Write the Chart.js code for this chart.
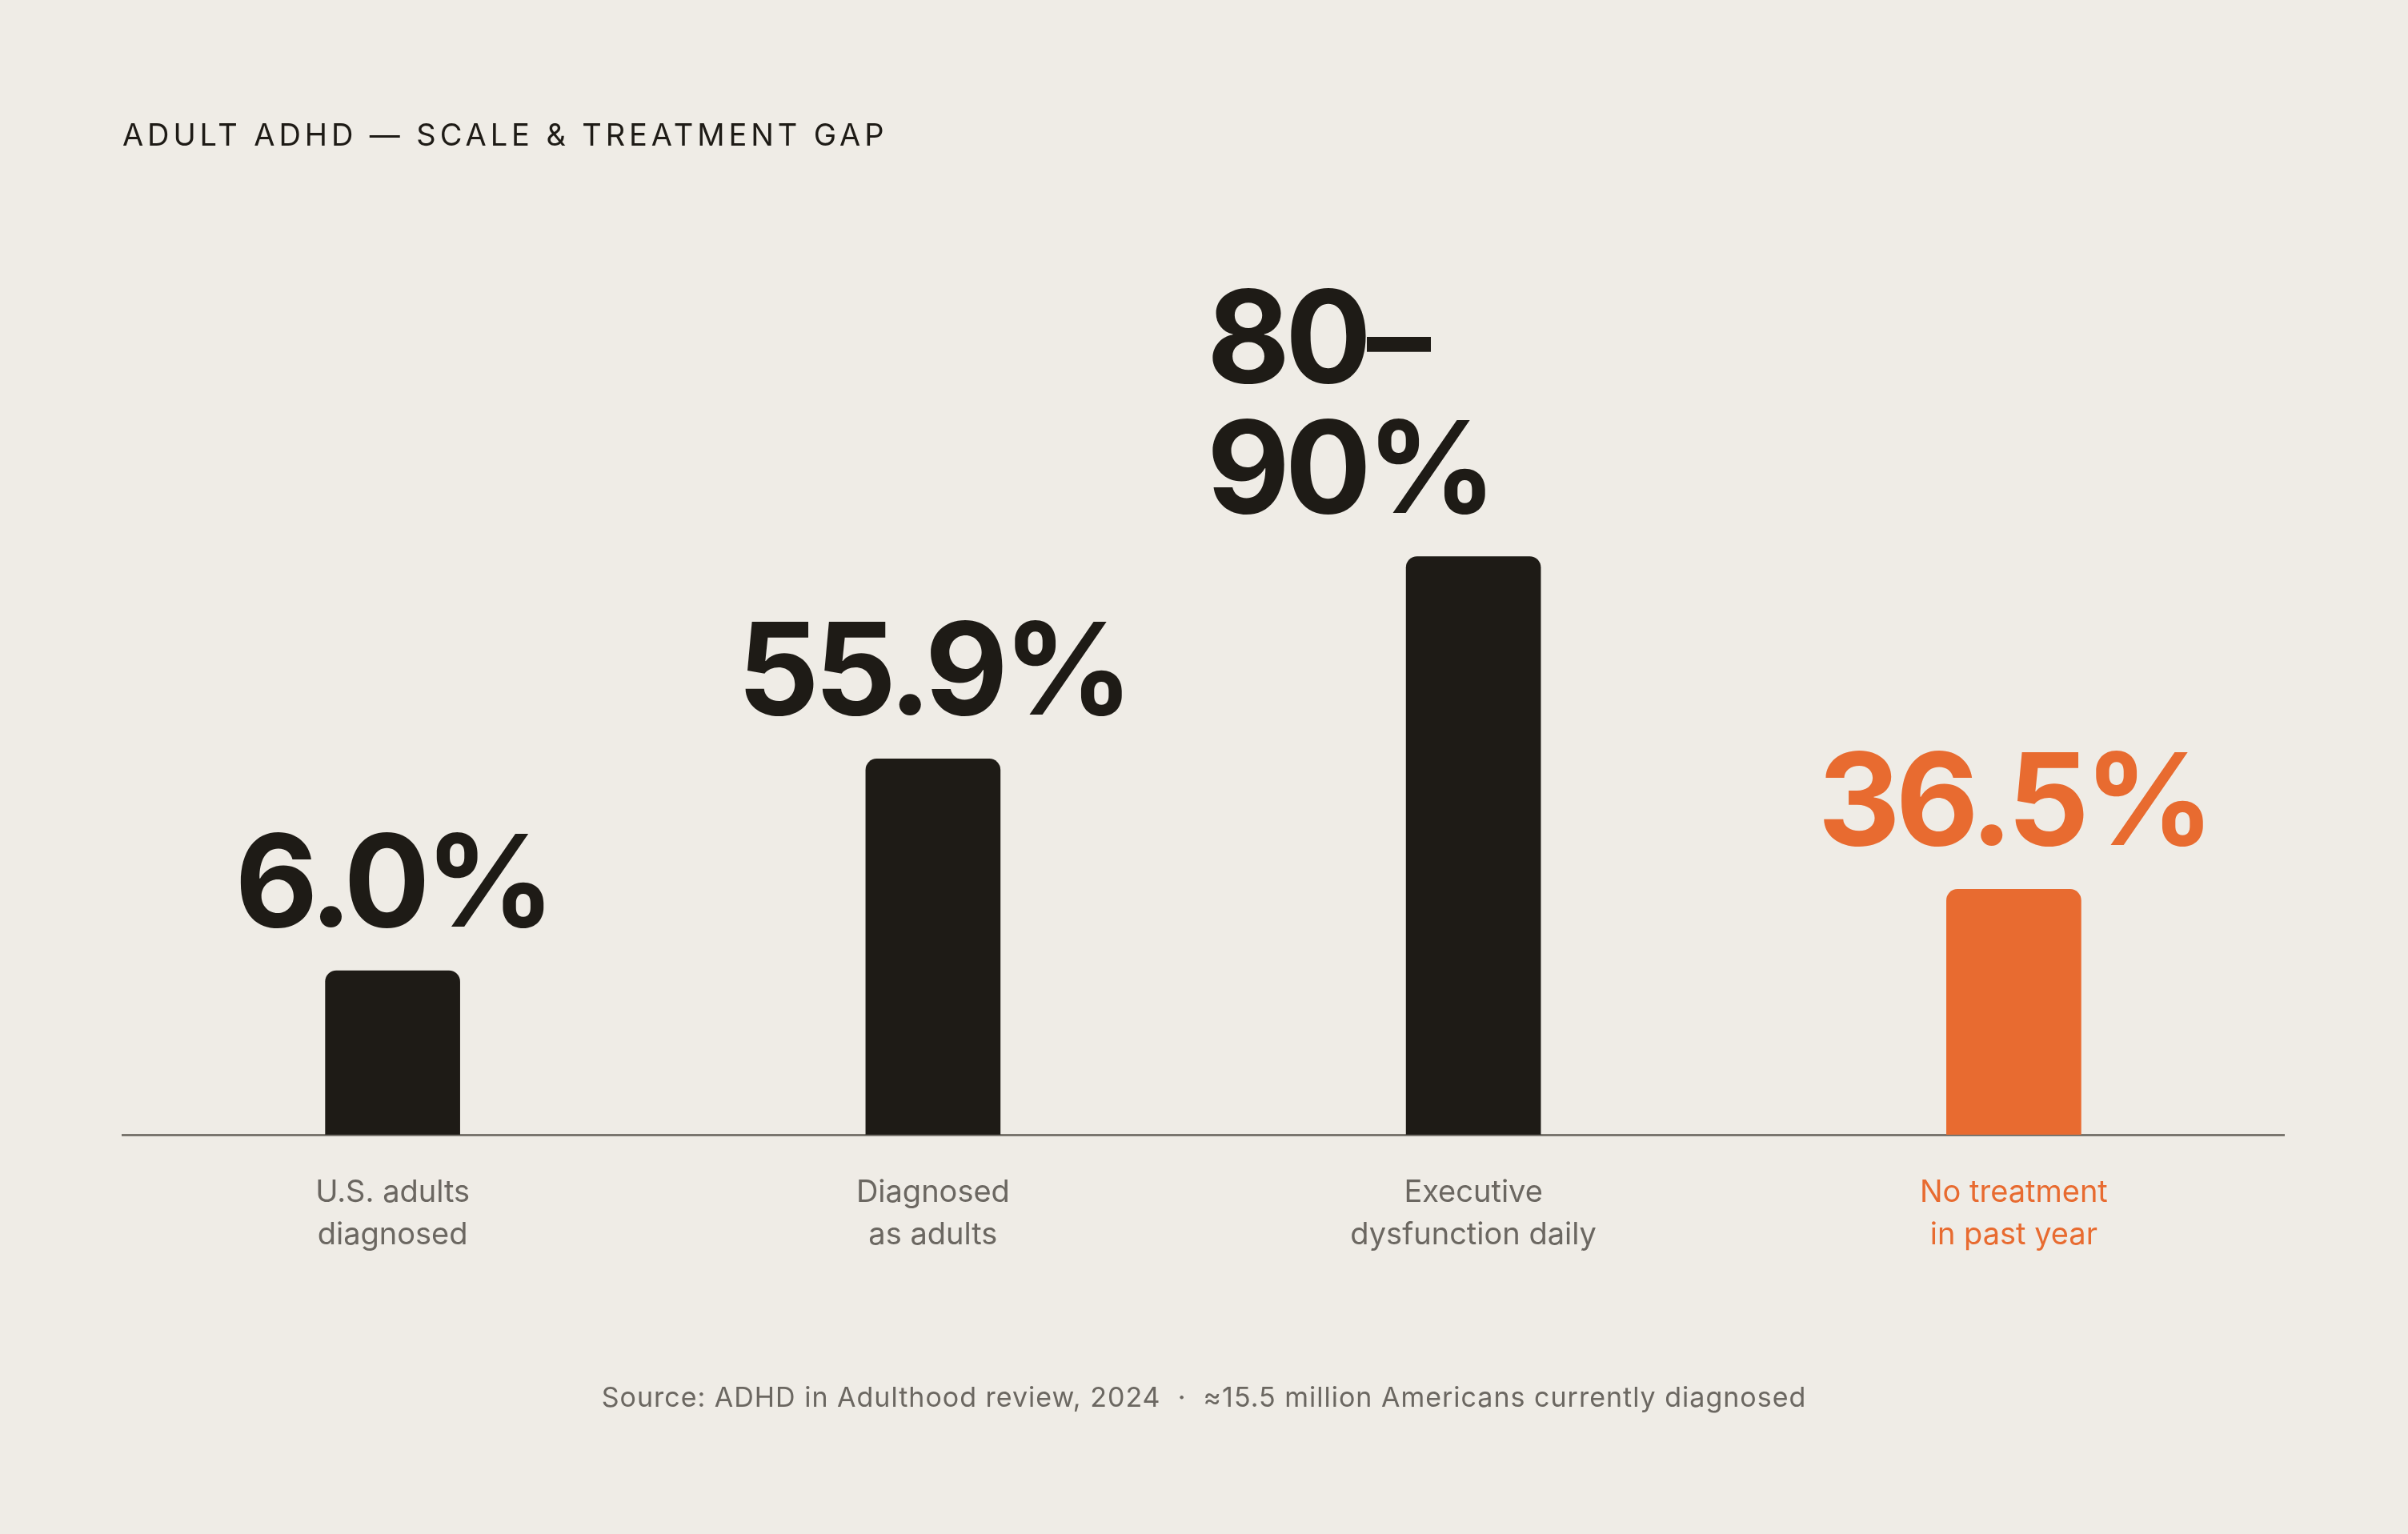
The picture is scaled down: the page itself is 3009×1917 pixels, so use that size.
<!DOCTYPE html>
<html>
<head>
<meta charset="utf-8">
<title>Adult ADHD — scale & treatment gap</title>
<script src="https://cdn.jsdelivr.net/npm/chart.js@4.4.1/dist/chart.umd.min.js"></script>
<style>
  html, body { margin: 0; padding: 0; background: #efece6; }
  #wrap { width: 3009px; height: 1917px; }
</style>
</head>
<body>
<div id="wrap"><canvas id="adhdChart" width="3009" height="1917"></canvas></div>
<script>
// data
const categories = [
  ['U.S. adults', 'diagnosed'],
  ['Diagnosed', 'as adults'],
  ['Executive', 'dysfunction daily'],
  ['No treatment', 'in past year']
];
const values = [6.0, 55.9, 86, 36.5];
const valueLabels = [['6.0%'], ['55.9%'], ['80–', '90%'], ['36.5%']];
const highlighted = [false, false, false, true];

const titleText = 'ADULT ADHD — SCALE & TREATMENT GAP';
const sourceText = 'Source: ADHD in Adulthood review, 2024  ·  ≈15.5 million Americans currently diagnosed';

const INK = '#1e1b16';
const ORANGE = '#e86b30';
const GREY = '#6b6761';
const FONT = 'Inter, "DejaVu Sans", sans-serif';

/**
 * value labels above bars, title and source line
 */
const decorPlugin = {
  id: 'decor',
  afterDatasetsDraw(chart) {
    const ctx = chart.ctx;
    const meta = chart.getDatasetMeta(0);
    ctx.save();
    ctx.font = '700 160px ' + FONT;
    ctx.textBaseline = 'alphabetic';
    meta.data.forEach(function(bar, i) {
      const lines = valueLabels[i];
      const baseY = bar.y - 55;
      ctx.fillStyle = highlighted[i] ? ORANGE : INK;
      if (lines.length === 1) {
        ctx.letterSpacing = '-6px';
        ctx.textAlign = 'center';
        ctx.fillText(lines[0], bar.x, baseY);
      } else {
        // wrapped label keeps the left edge of the unwrapped text
        ctx.letterSpacing = '0px';
        const full = ctx.measureText(lines.join('')).width;
        ctx.letterSpacing = '-6px';
        ctx.textAlign = 'left';
        lines.forEach(function(line, k) {
          ctx.fillText(line, bar.x - full / 2, baseY - (lines.length - 1 - k) * 163);
        });
      }
    });
    ctx.restore();
  },
  afterDraw(chart) {
    const ctx = chart.ctx;
    ctx.save();
    ctx.fillStyle = INK;
    ctx.font = '400 38px ' + FONT;
    ctx.letterSpacing = '4.9px';
    ctx.textAlign = 'left';
    ctx.textBaseline = 'alphabetic';
    ctx.fillText(titleText, chart.chartArea.left, 182);

    ctx.fillStyle = GREY;
    ctx.font = '400 34px ' + FONT;
    ctx.letterSpacing = '1px';
    ctx.textAlign = 'center';
    ctx.fillText(sourceText, chart.width / 2, 1758);
    ctx.restore();
  }
};

new Chart(document.getElementById('adhdChart'), {
  type: 'bar',
  data: {
    labels: categories,
    datasets: [{
      data: values,
      backgroundColor: values.map((v, i) => highlighted[i] ? ORANGE : INK),
      borderRadius: 14,
      borderSkipped: 'bottom',
      barThickness: 168,
      minBarLength: 205
    }]
  },
  options: {
    responsive: false,
    devicePixelRatio: 1,
    animation: false,
    layout: {
      padding: { left: 153, right: 155, top: 578, bottom: 0 }
    },
    scales: {
      y: {
        display: false,
        min: 0,
        max: 100
      },
      x: {
        z: 1,
        grid: { display: false, drawTicks: false },
        border: { display: true, color: '#7a766f', width: 3 },
        ticks: {
          padding: 46,
          font: { family: FONT, size: 38, lineHeight: 1.4 },
          color: function(c) { return highlighted[c.index] ? ORANGE : GREY; }
        },
        afterFit: function(scale) { scale.height = 499; }
      }
    },
    plugins: {
      legend: { display: false },
      tooltip: { enabled: false }
    }
  },
  plugins: [decorPlugin]
});
</script>
</body>
</html>
